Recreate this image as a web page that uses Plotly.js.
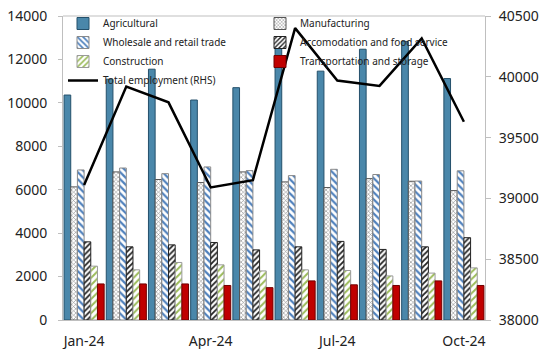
<!DOCTYPE html>
<html>
<head>
<meta charset="utf-8">
<script src="https://cdn.plot.ly/plotly-3.0.1.min.js"></script>
<style>html,body{margin:0;padding:0;background:#fff;}#chart{width:544px;height:349px;}</style>
</head>
<body>
<div id="chart"></div>
<script>
const months = ["Jan-24","Feb-24","Mar-24","Apr-24","May-24","Jun-24","Jul-24","Aug-24","Sep-24","Oct-24"];
const tickMonths = ["Jan-24","Apr-24","Jul-24","Oct-24"];
const agricultural = [10360, 11090, 11550, 10130, 10700, 12600, 11460, 12470, 12830, 11120];
const manufacturing = [6130, 6820, 6470, 6330, 6820, 6360, 6100, 6510, 6390, 5960];
const wholesale = [6910, 7000, 6740, 7050, 6880, 6650, 6940, 6700, 6400, 6870];
const accommodation = [3600, 3370, 3460, 3570, 3230, 3370, 3620, 3250, 3370, 3790];
const construction = [2480, 2310, 2650, 2540, 2260, 2310, 2280, 2030, 2160, 2400];
const transport = [1660, 1660, 1660, 1590, 1490, 1800, 1620, 1590, 1800, 1590];
const totalEmployment = [39110, 39920, 39790, 39090, 39150, 40400, 39970, 39925, 40315, 39630];
const leftTicks = [0, 2000, 4000, 6000, 8000, 10000, 12000, 14000];
const rightTicks = [38000, 38500, 39000, 39500, 40000, 40500];

const font = "Noto Sans, sans-serif";
function bar(name, y, color, line, pattern) {
  const m = {color: color, line: {color: line, width: 1}};
  if (pattern) m.pattern = pattern;
  return {type: "bar", name: name, x: months, y: y, marker: m, yaxis: "y"};
}
const data = [
  bar("Agricultural", agricultural, "#4a87aa", "#24506b"),
  bar("Manufacturing", manufacturing, "#ffffff", "#555555", {shape: "x", fgcolor: "#8a8a8a", bgcolor: "#ffffff", size: 3, solidity: 0.35}),
  bar("Wholesale and retail trade", wholesale, "#ffffff", "#8a8a8a", {shape: "\\", fgcolor: "#4f81bd", bgcolor: "#ffffff", size: 5, solidity: 0.45}),
  bar("Accomodation and food service", accommodation, "#ffffff", "#222222", {shape: "/", fgcolor: "#222222", bgcolor: "#ffffff", size: 4, solidity: 0.45}),
  bar("Construction", construction, "#ffffff", "#9a9a9a", {shape: "/", fgcolor: "#9bbb59", bgcolor: "#ffffff", size: 5, solidity: 0.4}),
  bar("Transportation and storage", transport, "#c00000", "#700000"),
  {type: "scatter", mode: "lines", name: "Total employment (RHS)", x: months, y: totalEmployment, yaxis: "y2",
   line: {color: "#000000", width: 2.5}}
];
const layout = {
  width: 544, height: 349,
  margin: {l: 63, r: 59, t: 16, b: 29, autoexpand: false},
  paper_bgcolor: "#ffffff", plot_bgcolor: "#ffffff",
  font: {family: font, size: 14, color: "#222222"},
  barmode: "group", bargap: 0.05, bargroupgap: 0,
  showlegend: true,
  legend: {orientation: "h", x: 0, y: 1.023, xanchor: "left", yanchor: "top",
    entrywidth: 152, entrywidthmode: "pixels", bgcolor: "rgba(0,0,0,0)",
    font: {family: font, size: 10, color: "#222222"}, tracegroupgap: 0, itemwidth: 30,
    traceorder: "normal"},
  xaxis: {type: "category", tickmode: "array", tickvals: tickMonths, ticktext: tickMonths,
    showgrid: false, showline: true, linecolor: "#bfbfbf", linewidth: 1, ticks: "", mirror: false,
    ticklabelstandoff: 8,
    tickfont: {family: font, size: 14, color: "#222222"}, zeroline: false},
  yaxis: {range: [0, 14000], tickmode: "array", tickvals: leftTicks, ticktext: leftTicks.map(String), showgrid: false,
    showline: true, linecolor: "#bfbfbf", ticks: "outside", ticklen: 4, tickcolor: "#bfbfbf",
    ticklabelstandoff: 8,
    zeroline: false, tickfont: {family: font, size: 14, color: "#222222"}},
  yaxis2: {range: [38000, 40500], tickmode: "array", tickvals: rightTicks, ticktext: rightTicks.map(String), overlaying: "y", side: "right",
    showgrid: false, showline: true, linecolor: "#bfbfbf", ticks: "outside", ticklen: 5, tickcolor: "#bfbfbf",
    ticklabelstandoff: 5,
    zeroline: false, tickfont: {family: font, size: 14, color: "#222222"}},
  shapes: [{type: "line", xref: "paper", yref: "paper", x0: 0, x1: 1, y0: 1, y1: 1, line: {color: "#bfbfbf", width: 1}}]
};
Plotly.newPlot("chart", data, layout, {displayModeBar: false, staticPlot: true});
</script>
</body>
</html>
